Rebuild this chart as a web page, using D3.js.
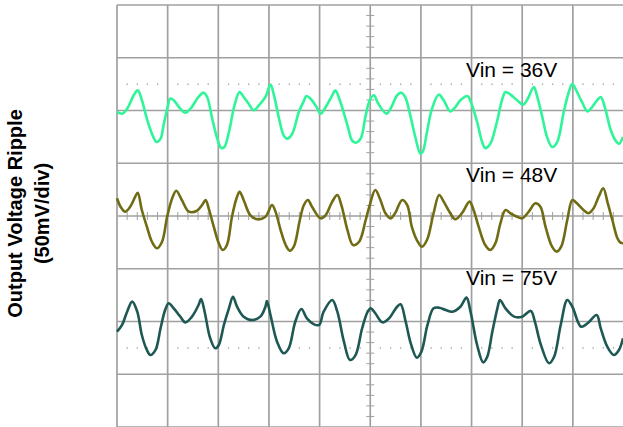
<!DOCTYPE html>
<head>
<meta charset="utf-8">
<title>Output Voltage Ripple</title>
<style>
    body { margin:0; background:#fff; }
    svg { display:block; }
    text { font-family: "Liberation Sans", Arial, sans-serif; }
</style>
</head>

<body>
<svg width="623" height="427"></svg>

<script src="https://cdnjs.cloudflare.com/ajax/libs/d3/7.8.5/d3.min.js"></script>
<script>
// time in divisions (0-10), ripple in mV around each trace's own baseline
var vin36 = [[0.00,-1.4],[0.10,-3.0],[0.20,1.7],[0.33,14.4],[0.41,19.1],[0.49,10.0],[0.59,-7.8],[0.69,-22.0],[0.78,-29.9],[0.86,-26.7],[0.92,-13.7],[1.00,3.3],[1.05,11.2],[1.12,9.7],[1.25,1.7],[1.35,-2.1],[1.45,1.7],[1.61,12.8],[1.71,16.9],[1.78,12.8],[1.88,-7.8],[1.98,-26.7],[2.06,-35.6],[2.12,-34.6],[2.21,-20.4],[2.32,4.9],[2.42,17.5],[2.50,12.8],[2.60,6.4],[2.70,0.2],[2.80,4.9],[2.93,12.8],[3.03,24.5],[3.10,14.4],[3.20,-7.8],[3.29,-23.5],[3.36,-26.7],[3.46,-22.0],[3.59,-1.4],[3.68,8.1],[3.74,13.7],[3.82,11.2],[3.94,3.3],[4.02,-3.0],[4.12,3.3],[4.25,14.4],[4.31,19.1],[4.41,8.1],[4.55,-14.0],[4.64,-28.3],[4.71,-30.5],[4.81,-26.7],[4.91,-4.6],[4.99,9.7],[5.07,14.4],[5.16,6.4],[5.32,-3.0],[5.40,1.7],[5.53,14.4],[5.61,16.9],[5.69,12.8],[5.79,-4.6],[5.89,-25.1],[5.99,-41.0],[6.04,-38.7],[6.12,-20.4],[6.22,1.7],[6.35,15.0],[6.45,9.7],[6.58,-0.8],[6.68,3.3],[6.78,9.7],[6.92,13.7],[7.01,4.9],[7.11,-10.9],[7.21,-29.9],[7.27,-35.6],[7.37,-31.5],[7.50,-10.9],[7.60,9.7],[7.67,17.5],[7.77,15.0],[7.90,9.7],[8.02,5.5],[8.11,11.2],[8.23,22.3],[8.29,14.4],[8.39,-4.6],[8.49,-25.1],[8.59,-34.6],[8.69,-29.9],[8.82,-1.4],[8.92,17.5],[8.99,25.4],[9.05,20.7],[9.18,8.1],[9.29,-0.8],[9.38,3.3],[9.48,9.7],[9.55,12.8],[9.64,1.7],[9.74,-17.3],[9.84,-28.3],[9.91,-31.5],[9.99,-25.1]];

var vin48 = [[0.00,16.8],[0.07,8.8],[0.16,4.1],[0.26,8.8],[0.36,18.3],[0.41,22.1],[0.49,5.7],[0.59,-10.1],[0.69,-24.4],[0.79,-30.6],[0.89,-24.4],[0.99,-0.7],[1.09,16.8],[1.17,24.0],[1.28,15.2],[1.42,4.1],[1.58,5.0],[1.68,10.4],[1.75,15.2],[1.81,7.3],[1.91,-10.1],[2.01,-25.9],[2.09,-32.2],[2.17,-27.5],[2.27,-0.7],[2.36,16.8],[2.42,23.0],[2.50,15.2],[2.63,0.9],[2.77,-3.1],[2.93,-0.7],[3.06,10.4],[3.13,4.1],[3.23,-13.3],[3.33,-27.5],[3.41,-32.9],[3.49,-29.1],[3.61,-3.8],[3.69,10.4],[3.77,15.2],[3.85,8.8],[4.02,-2.2],[4.12,0.9],[4.25,13.6],[4.35,19.9],[4.43,10.4],[4.55,-13.3],[4.66,-27.5],[4.78,-24.4],[4.91,-3.8],[4.99,10.4],[5.10,24.6],[5.20,15.2],[5.30,2.6],[5.40,-2.2],[5.49,2.6],[5.63,15.2],[5.73,10.4],[5.82,-10.1],[5.92,-22.8],[6.02,-29.1],[6.12,-22.8],[6.25,2.6],[6.36,19.9],[6.45,13.6],[6.58,2.6],[6.68,-3.1],[6.81,2.6],[6.96,13.6],[7.04,5.7],[7.14,-10.1],[7.27,-27.5],[7.37,-32.2],[7.47,-25.9],[7.57,-6.9],[7.67,5.7],[7.77,2.6],[7.90,-0.7],[8.00,-2.2],[8.13,4.1],[8.26,12.0],[8.36,8.8],[8.46,-10.1],[8.59,-29.1],[8.68,-33.8],[8.77,-29.1],[8.89,-3.8],[8.99,15.2],[9.08,12.0],[9.21,5.7],[9.31,2.6],[9.41,7.3],[9.51,18.3],[9.60,26.3],[9.69,12.0],[9.78,-3.8],[9.88,-21.1],[9.94,-25.3],[9.99,-25.9]];

var vin75 = [[0.00,-9.7],[0.10,-3.3],[0.20,9.3],[0.30,18.8],[0.40,9.3],[0.49,-12.8],[0.59,-27.0],[0.66,-31.8],[0.76,-27.0],[0.86,-6.4],[0.95,10.9],[1.02,17.3],[1.12,12.5],[1.25,4.6],[1.35,-0.8],[1.48,4.6],[1.61,15.6],[1.66,21.3],[1.73,9.3],[1.84,-15.9],[1.94,-25.4],[2.01,-22.3],[2.11,-3.3],[2.21,12.5],[2.29,23.5],[2.37,14.0],[2.50,4.6],[2.67,1.4],[2.83,4.6],[2.93,14.0],[2.96,19.4],[3.03,6.2],[3.16,-19.1],[3.29,-30.1],[3.39,-25.4],[3.52,-0.2],[3.64,11.9],[3.75,3.0],[3.89,-2.7],[3.99,-3.3],[4.08,9.3],[4.25,20.4],[4.35,9.3],[4.48,-19.1],[4.60,-36.5],[4.71,-31.8],[4.84,-6.4],[4.95,9.3],[5.01,12.5],[5.10,7.8],[5.24,-0.8],[5.37,3.0],[5.53,14.0],[5.60,16.3],[5.70,-0.2],[5.80,-20.7],[5.92,-34.3],[6.01,-28.6],[6.13,-3.3],[6.25,12.5],[6.36,13.1],[6.49,10.9],[6.62,9.3],[6.78,14.0],[6.90,22.6],[6.98,9.3],[7.11,-22.3],[7.23,-38.7],[7.31,-33.4],[7.41,-9.7],[7.51,12.5],[7.56,20.4],[7.67,12.5],[7.84,4.6],[8.00,4.6],[8.17,10.0],[8.25,-0.2],[8.37,-22.3],[8.53,-39.6],[8.63,-33.4],[8.76,-3.3],[8.89,20.4],[8.99,14.0],[9.16,-4.9],[9.29,-1.7],[9.47,6.2],[9.55,-6.4],[9.68,-23.9],[9.81,-31.8],[9.91,-27.0],[9.99,-15.9]];

var traceNames = ["Vin = 36V", "Vin = 48V", "Vin = 75V"];
var traceData = [vin36, vin48, vin75];
var traceOffsets = [100, 0, -100];      // mV, position of each trace on screen
var labelLift = [32, 32, 35];           // mV above trace baseline
var traceColors = ["#2ef597", "#6f6c14", "#1e5853"];

var timeDivs = d3.range(0, 10);         // vertical grid lines
var voltDivs = d3.range(-200, 201, 50); // horizontal grid lines
var cursorLevels = [125, -125];         // dotted cursor lines, mV

var svg = d3.select("svg");
var x = d3.scaleLinear().domain([0, 10]).range([117, 623.5]);
var y = d3.scaleLinear().domain([-200, 200]).range([427, 5]);

var grid = svg.append("g");
grid.selectAll(".v").data(timeDivs).enter().append("line")
    .attr("x1", function(d){ return x(d); }).attr("x2", function(d){ return x(d); })
    .attr("y1", y(200)).attr("y2", y(-200))
    .attr("stroke", "#a0a0a0").attr("stroke-width", 1.7);
grid.selectAll(".h").data(voltDivs).enter().append("line")
    .attr("y1", function(d){ return y(d); }).attr("y2", function(d){ return y(d); })
    .attr("x1", x(0)).attr("x2", x(10))
    .attr("stroke", "#a0a0a0").attr("stroke-width", 1.7);

// minor ticks on the centre cross
var minorT = d3.range(0, 10.01, 0.2).filter(function(d){ return Math.abs(d - Math.round(d)) > 0.01; });
var minorV = d3.range(-200, 200.1, 10).filter(function(d){ return d % 50 !== 0; });
grid.selectAll(".tx").data(minorT).enter().append("line")
    .attr("x1", function(d){ return x(d); }).attr("x2", function(d){ return x(d); })
    .attr("y1", y(0) - 4).attr("y2", y(0) + 4)
    .attr("stroke", "#a0a0a0").attr("stroke-width", 1);
grid.selectAll(".ty").data(minorV).enter().append("line")
    .attr("y1", function(d){ return y(d); }).attr("y2", function(d){ return y(d); })
    .attr("x1", x(5) - 4).attr("x2", x(5) + 4)
    .attr("stroke", "#a0a0a0").attr("stroke-width", 1);

// dotted cursors
cursorLevels.forEach(function(lv){
  grid.selectAll(null).data(minorT).enter().append("rect")
      .attr("x", function(d){ return x(d) - 0.6; })
      .attr("y", y(lv) - 0.6)
      .attr("width", 1.3).attr("height", 1.3)
      .attr("fill", "#9a9a9a");
});

var line = d3.line()
    .curve(d3.curveCatmullRom.alpha(0.5))
    .x(function(d){ return x(d[0]); });

traceData.forEach(function(data, i){
  line.y(function(d){ return y(d[1] + traceOffsets[i]); });
  svg.append("path")
      .attr("d", line(data))
      .attr("fill", "none")
      .attr("stroke", traceColors[i])
      .attr("stroke-width", 2.6)
      .attr("stroke-linejoin", "round");
  svg.append("text")
      .attr("x", 466)
      .attr("y", y(traceOffsets[i] + labelLift[i]))
      .attr("font-size", 21)
      .attr("fill", "#000")
      .text(traceNames[i]);
});

svg.append("text")
    .attr("transform", "translate(22, 213.5) rotate(-90)")
    .attr("text-anchor", "middle")
    .attr("font-size", 20)
    .attr("font-weight", "bold")
    .text("Output Voltage Ripple");
svg.append("text")
    .attr("transform", "translate(49, 213.5) rotate(-90)")
    .attr("text-anchor", "middle")
    .attr("font-size", 20)
    .attr("font-weight", "bold")
    .text("(50mV/div)");
</script>
</body>
